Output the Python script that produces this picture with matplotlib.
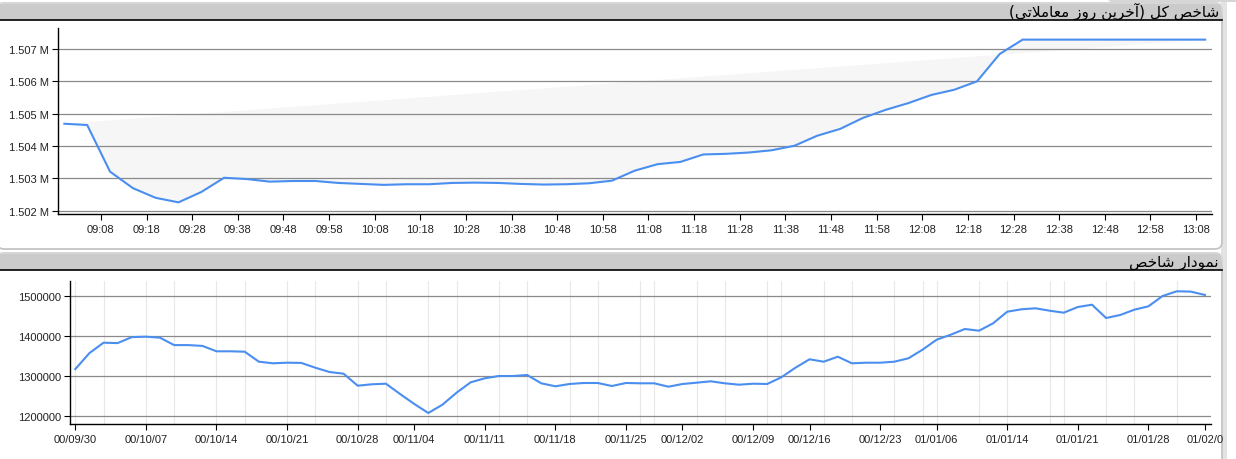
import numpy as np
import matplotlib
matplotlib.use('Agg')
import matplotlib.pyplot as plt
from matplotlib.patches import FancyBboxPatch, Rectangle
from matplotlib.ticker import FuncFormatter

# ---- data: last trading day (intraday, every 5 minutes) ----
intraday_times = [
    '09:00', '09:05', '09:10', '09:15', '09:20', '09:25', '09:30', '09:35', '09:40', '09:45',
    '09:50', '09:55', '10:00', '10:05', '10:10', '10:15', '10:20', '10:25', '10:30', '10:35',
    '10:40', '10:45', '10:50', '10:55', '11:00', '11:05', '11:10', '11:15', '11:20', '11:25',
    '11:30', '11:35', '11:40', '11:45', '11:50', '11:55', '12:00', '12:05', '12:10', '12:15',
    '12:20', '12:25', '12:30', '12:35', '12:40', '12:45', '12:50', '12:55', '13:00', '13:05',
    '13:10',
]
intraday_values = [
    1504690, 1504650, 1503210, 1502700, 1502400, 1502260, 1502580, 1503020, 1502980, 1502900,
    1502920, 1502920, 1502860, 1502830, 1502800, 1502820, 1502820, 1502860, 1502870, 1502860,
    1502830, 1502810, 1502820, 1502850, 1502930, 1503240, 1503440, 1503510, 1503740, 1503760,
    1503800, 1503870, 1504010, 1504320, 1504530, 1504870, 1505120, 1505330, 1505580, 1505740,
    1506000, 1506850, 1507290, 1507290, 1507290, 1507290, 1507290, 1507290, 1507290, 1507290,
    1507290,
]
intraday_ticks = ['09:08', '09:18', '09:28', '09:38', '09:48', '09:58', '10:08', '10:18',
                  '10:28', '10:38', '10:48', '10:58', '11:08', '11:18', '11:28', '11:38',
                  '11:48', '11:58', '12:08', '12:18', '12:28', '12:38', '12:48', '12:58', '13:08']

# ---- data: daily index (one value per trading day) ----
daily_values = [
    1318000, 1358000, 1384000, 1383000, 1398000, 1399000, 1396500, 1378000, 1378000, 1376000,
    1362500, 1362500, 1361500, 1336500, 1332500, 1334000, 1333500, 1321500, 1310750, 1306500,
    1276500, 1280000, 1281500, 1255750, 1231000, 1208250, 1229000, 1259000, 1285000, 1295000,
    1300750, 1300750, 1303250, 1282500, 1275000, 1280750, 1283250, 1283250, 1275750, 1283250,
    1282500, 1282500, 1274000, 1280750, 1284000, 1287500, 1282500, 1279000, 1281500, 1280750,
    1297500, 1321500, 1342500, 1336500, 1349000, 1332500, 1334000, 1334000, 1336500, 1345000,
    1366500, 1391500, 1404000, 1418250, 1414000, 1432500, 1461500, 1467500, 1470000, 1464000,
    1459000, 1473250, 1479000, 1445750, 1453250, 1466500, 1475000, 1500750, 1512500, 1511750,
    1503250,
]
daily_tick_labels = ['00/09/30', '00/10/07', '00/10/14', '00/10/21', '00/10/28', '00/11/04',
                     '00/11/11', '00/11/18', '00/11/25', '00/12/02', '00/12/09', '00/12/16',
                     '00/12/23', '01/01/06', '01/01/14', '01/01/21', '01/01/28', '01/02/0']
daily_tick_days = [0, 5, 10, 15, 20, 24, 29, 34, 39, 43, 48, 52, 57, 61, 66, 71, 76, 80]
daily_minor_days = [0, 2, 5, 7, 10, 12, 15, 17, 20, 22, 25, 27, 30, 32, 35, 37, 40, 41, 44,
                    46, 49, 50, 53, 55, 58, 60, 61, 64, 66, 69, 70, 73, 75, 78]

title_top = 'شاخص کل (آخرین روز معاملاتی)'
title_bottom = 'نمودار شاخص'

LINE = '#4a8ef0'
GRID = '#8a8a8a'
TICKFONT = 'Liberation Sans'

# minimal Persian shaping (matplotlib draws no contextual forms / bidi)
FORMS = {
    '\u0627': ('\uFE8D', '\uFE8E', None, None),
    '\u0622': ('\uFE81', '\uFE82', None, None),
    '\u062A': ('\uFE95', '\uFE96', '\uFE97', '\uFE98'),
    '\u062E': ('\uFEA5', '\uFEA6', '\uFEA7', '\uFEA8'),
    '\u062F': ('\uFEA9', '\uFEAA', None, None),
    '\u0631': ('\uFEAD', '\uFEAE', None, None),
    '\u0632': ('\uFEAF', '\uFEB0', None, None),
    '\u0634': ('\uFEB5', '\uFEB6', '\uFEB7', '\uFEB8'),
    '\u0635': ('\uFEB9', '\uFEBA', '\uFEBB', '\uFEBC'),
    '\u0639': ('\uFEC9', '\uFECA', '\uFECB', '\uFECC'),
    '\u0644': ('\uFEDD', '\uFEDE', '\uFEDF', '\uFEE0'),
    '\u0645': ('\uFEE1', '\uFEE2', '\uFEE3', '\uFEE4'),
    '\u0646': ('\uFEE5', '\uFEE6', '\uFEE7', '\uFEE8'),
    '\u0648': ('\uFEED', '\uFEEE', None, None),
    '\u06A9': ('\uFB8E', '\uFB8F', '\uFB90', '\uFB91'),
    '\u06CC': ('\uFBFC', '\uFBFD', '\uFBFE', '\uFBFF'),
}
LAM_ALEF = {'\u0627': ('\uFEFB', '\uFEFC'), '\u0622': ('\uFEF5', '\uFEF6')}


def shape_rtl(text):
    out = []
    i = 0
    n = len(text)
    while i < n:
        c = text[i]
        if c not in FORMS:
            out.append(c)
            i += 1
            continue
        prev = text[i - 1] if i > 0 else None
        joins_prev = prev in FORMS and FORMS[prev][2] is not None
        if c == '\u0644' and i + 1 < n and text[i + 1] in LAM_ALEF:
            lig = LAM_ALEF[text[i + 1]]
            out.append(lig[1] if joins_prev else lig[0])
            i += 2
            continue
        nxt = text[i + 1] if i + 1 < n else None
        iso, fin, ini, med = FORMS[c]
        joins_next = ini is not None and nxt in FORMS
        if joins_prev and joins_next:
            out.append(med)
        elif joins_prev:
            out.append(fin)
        elif joins_next:
            out.append(ini)
        else:
            out.append(iso)
        i += 1
    mirror = {'(': ')', ')': '('}
    return ''.join(mirror.get(ch, ch) for ch in reversed(out))


def to_minutes(s):
    h, m = s.split(':')
    return int(h) * 60 + int(m)


W, H = 1236, 460
fig = plt.figure(figsize=(W / 100, H / 100), dpi=100)

# background: panels drawn in pixel coordinates
bg = fig.add_axes([0, 0, 1, 1], zorder=-1)
bg.set_xlim(0, W)
bg.set_ylim(H, 0)
bg.axis('off')

bg.add_patch(Rectangle((1221, 0), 6, H, color='#e3e3e3', lw=0))
bg.add_patch(FancyBboxPatch((1108, -8), 140, 11, boxstyle='round,pad=0,rounding_size=4',
                            fc='#d6d6d6', ec='none'))
for top, bottom, title in [(4, 250, title_top), (254, 480, title_bottom)]:
    bg.add_patch(FancyBboxPatch((-3, top), 1225, bottom - top,
                                boxstyle='round,pad=0,rounding_size=7',
                                fc='white', ec='#c4c4c4', lw=1.3))
    bg.add_patch(FancyBboxPatch((-3, top), 1225, 16.5,
                                boxstyle='round,pad=0,rounding_size=5',
                                fc='#cbcbcb', ec='#e2e2e2', lw=0.8))
    bg.add_patch(Rectangle((-3, top + 8), 1225, 8.5, fc='#cbcbcb', ec='none'))
    bg.plot([0, 1222], [top + 16.8, top + 16.8], color='black', lw=1.2, zorder=3)
    bg.text(1219, top + 12.8, shape_rtl(title), ha='right', va='baseline',
            fontsize=11, family='DejaVu Sans', color='black', zorder=2)

# ---- top chart: intraday ----
ax1 = fig.add_axes([58 / W, (H - 215) / H, 1154 / W, 185.7 / H])
ax1.set_facecolor('none')
tx = [to_minutes(t) for t in intraday_times]
ax1.fill(tx, intraday_values, color='#f6f6f6', lw=0, zorder=0.2)
ax1.plot(tx, intraday_values, color=LINE, lw=1.5, zorder=3)
ax1.set_xlim(538.6, 791.5)
ax1.set_ylim(1501900, 1507640)
ax1.set_yticks([1502000, 1503000, 1504000, 1505000, 1506000, 1507000])
ax1.yaxis.set_major_formatter(FuncFormatter(lambda v, p: f'{v / 1e6:.3f} M'))
ax1.set_xticks([to_minutes(t) for t in intraday_ticks])
ax1.set_xticklabels(intraday_ticks)

# ---- bottom chart: daily ----
ax2 = fig.add_axes([70 / W, 35 / H, 1141 / W, 143 / H])
ax2.set_facecolor('none')
dx = np.arange(len(daily_values))
for d in daily_minor_days:
    ax2.axvline(d, color='#e8e8e8', lw=0.8, zorder=0.1)
ax2.plot(dx, daily_values, color=LINE, lw=1.5, zorder=3)
ax2.set_xlim(-0.375, 80.43)
ax2.set_ylim(1180750, 1538250)
ax2.set_yticks([1200000, 1300000, 1400000, 1500000])
ax2.yaxis.set_major_formatter(FuncFormatter(lambda v, p: f'{int(v)}'))
ax2.set_xticks(daily_tick_days)
ax2.set_xticklabels(daily_tick_labels)

for ax in (ax1, ax2):
    ax.set_axisbelow(True)
    ax.grid(axis='y', color=GRID, lw=0.9, zorder=0.5)
    for s in ('top', 'right'):
        ax.spines[s].set_visible(False)
    for s in ('left', 'bottom'):
        ax.spines[s].set_color('black')
        ax.spines[s].set_linewidth(1.0)
    ax.tick_params(axis='y', length=4, width=0.8, pad=2.5, labelsize=8, labelcolor='#222222')
    ax.tick_params(axis='x', length=4, width=0.8, pad=3.5, labelsize=8, labelcolor='#222222')
    for lab in ax.get_xticklabels() + ax.get_yticklabels():
        lab.set_family(TICKFONT)

fig.savefig('out.png', dpi=100)
